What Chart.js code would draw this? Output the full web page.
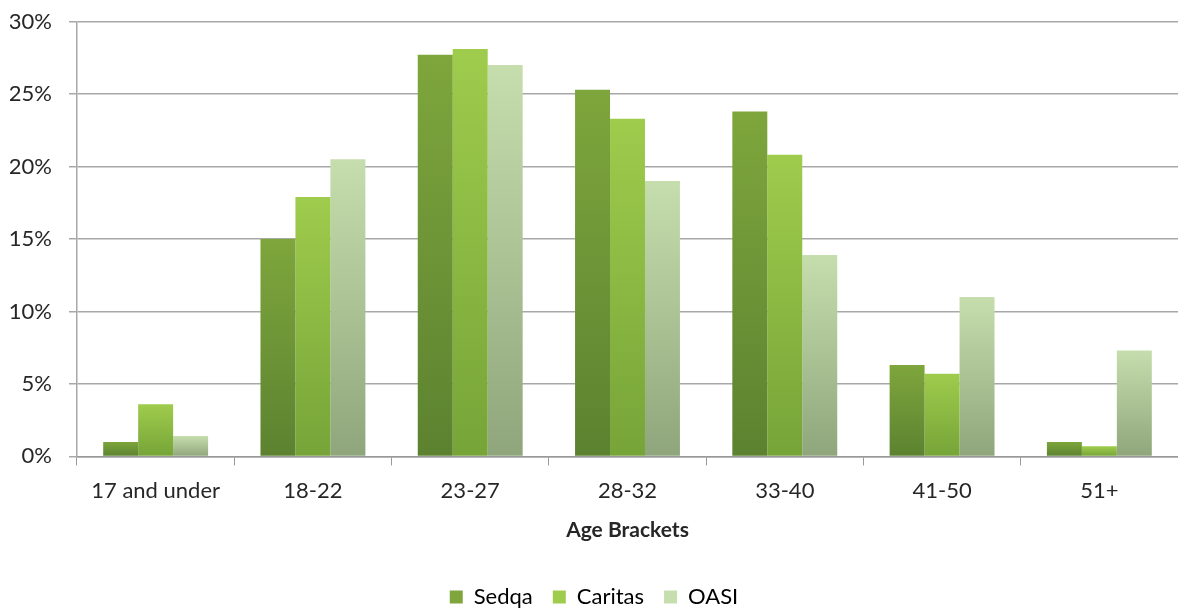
<!DOCTYPE html>
<html>
<head>
<meta charset="utf-8">
<script src="https://cdn.jsdelivr.net/npm/chart.js@4"></script>
<style>
  html, body { margin: 0; padding: 0; background: #ffffff; }
  #wrap { width: 1178px; height: 612px; position: relative; }
</style>
</head>
<body>
<div id="wrap"><canvas id="c"></canvas></div>
<script>
const categories = ['17 and under', '18-22', '23-27', '28-32', '33-40', '41-50', '51+'];
const sedqa   = [1.0, 15.0, 27.7, 25.3, 23.8, 6.3, 1.0];
const caritas = [3.6, 17.9, 28.1, 23.3, 20.8, 5.7, 0.7];
const oasi    = [1.4, 20.5, 27.0, 19.0, 13.9, 11.0, 7.3];
const yTicks  = [0, 5, 10, 15, 20, 25, 30];

// top / bottom colours of each series' vertical gradient
const shades = {
  Sedqa:   ['#7ea63c', '#5c8230'],
  Caritas: ['#9fcc4c', '#76a438'],
  OASI:    ['#c6dead', '#8fa67c']
};

function barGradient(name) {
  return function (ctx) {
    const chart = ctx.chart;
    const y = chart.scales.y;
    if (!y || ctx.raw === undefined) return shades[name][1];
    const top = y.getPixelForValue(ctx.raw);
    const base = y.getPixelForValue(0);
    const g = chart.ctx.createLinearGradient(0, top, 0, base);
    g.addColorStop(0, shades[name][0]);
    g.addColorStop(1, shades[name][1]);
    return g;
  };
}

const font = "Lato, 'Open Sans', sans-serif";

new Chart(document.getElementById('c'), {
  type: 'bar',
  data: {
    labels: categories,
    datasets: [
      { label: 'Sedqa',   data: sedqa,   backgroundColor: barGradient('Sedqa') },
      { label: 'Caritas', data: caritas, backgroundColor: barGradient('Caritas') },
      { label: 'OASI',    data: oasi,    backgroundColor: barGradient('OASI') }
    ]
  },
  options: {
    responsive: true,
    maintainAspectRatio: false,
    animation: false,
    layout: { padding: { top: 21.5, right: 0, left: 10, bottom: -6 } },
    datasets: { bar: { categoryPercentage: 0.667, barPercentage: 1.0, borderWidth: 0 } },
    plugins: {
      tooltip: { enabled: false },
      legend: {
        position: 'bottom',
        labels: {
          font: { family: font, size: 22 },
          color: '#262626',
          boxWidth: 13,
          boxHeight: 13,
          padding: 20,
          generateLabels(chart) {
            return chart.data.datasets.map((ds, i) => ({
              text: ds.label,
              fillStyle: shades[ds.label][0],
              strokeStyle: 'rgba(0,0,0,0)',
              lineWidth: 0,
              datasetIndex: i,
              hidden: false
            }));
          }
        }
      }
    },
    scales: {
      x: {
        grid: { offset: true, drawOnChartArea: false, color: '#999999', tickLength: 9 },
        border: { color: '#999999', width: 1.5 },
        ticks: { font: { family: font, size: 22 }, color: '#262626', padding: 12 },
        title: {
          display: true,
          text: 'Age Brackets',
          font: { family: font, size: 21, weight: 'bold' },
          color: '#262626',
          padding: { top: 2, bottom: 23 }
        }
      },
      y: {
        min: 0,
        max: 30,
        afterBuildTicks(axis) { axis.ticks = yTicks.map(v => ({ value: v })); },
        afterFit(axis) {
          axis.width = 67;
          axis.paddingTop = 0;
          axis.paddingBottom = 0;
        },
        grid: { color: '#a8a8a8', lineWidth: 1.5, tickLength: 8 },
        border: { color: '#a8a8a8', width: 1.5 },
        ticks: {
          font: { family: font, size: 22 },
          color: '#262626',
          padding: 17,
          callback: v => v + '%'
        }
      }
    }
  }
});
</script>
</body>
</html>
